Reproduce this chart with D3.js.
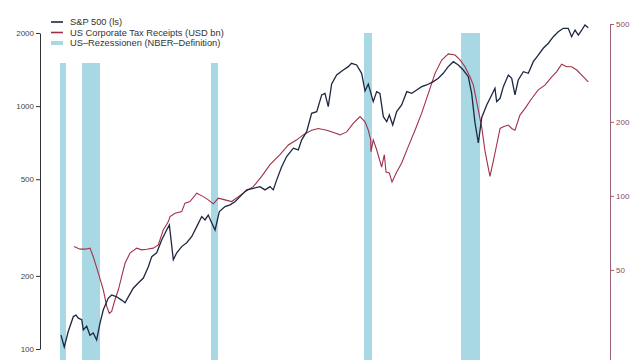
<!DOCTYPE html>
<html><head><meta charset="utf-8">
<script src="https://cdn.jsdelivr.net/npm/d3@7"></script>
<style>html,body{margin:0;padding:0;background:#fff;}svg{display:block;font-family:"Liberation Sans",Arial,sans-serif;}</style>
</head><body><svg id="c" width="640" height="360"></svg>
<script>
// S&P 500 (left scale), [decimal year, index level]
const spYears = [1980.00,1980.23,1980.51,1980.87,1981.06,1981.22,1981.46,1981.57,1981.81,1982.04,1982.27,1982.51,1982.75,1982.98,1983.33,1983.57,1983.92,1984.27,1984.51,1984.74,1985.09,1985.44,1985.80,1986.15,1986.39,1986.74,1987.09,1987.44,1987.63,1987.91,1988.15,1988.50,1988.85,1989.20,1989.56,1989.91,1990.14,1990.37,1990.61,1990.85,1991.15,1991.55,1991.90,1992.25,1992.73,1993.08,1993.54,1994.01,1994.37,1994.72,1994.95,1995.19,1995.54,1995.89,1996.36,1996.71,1996.95,1997.30,1997.65,1998.01,1998.36,1998.59,1998.82,1999.06,1999.41,1999.88,2000.23,2000.46,2000.82,2001.17,2001.41,2001.64,2001.99,2002.23,2002.46,2002.70,2002.94,2003.12,2003.36,2003.64,2003.99,2004.35,2004.70,2005.05,2005.40,2005.75,2006.22,2006.57,2006.92,2007.27,2007.63,2007.98,2008.33,2008.68,2008.92,2009.15,2009.39,2009.63,2009.98,2010.33,2010.56,2010.68,2010.92,2011.15,2011.50,2011.74,2011.97,2012.20,2012.56,2012.91,2013.26,2013.61,2013.96,2014.32,2014.67,2015.02,2015.37,2015.72,2015.96,2016.20,2016.43,2016.67,2016.90,2017.13];
const spValues = [114,102,118,136,138,134,132,120,124,114,116.5,109,128,145,162,167,164,159,155,164,178,187,196,218,240,249,281,309,324,233,249,264,274,290,319,351,340,356,331,309,368,386,392,404,431,452,459,466,452,466,452,497,563,620,671,660,726,785,934,949,1112,1129,995,1233,1343,1408,1454,1501,1477,1365,1154,1233,1043,1147,1129,905,863,920,836,949,1011,1147,1129,1165,1203,1222,1261,1302,1365,1454,1524,1477,1408,1322,1129,857,705,898,1011,1112,1184,1043,1077,1203,1343,1302,1112,1281,1386,1365,1524,1623,1730,1815,1931,2024,2091,2091,1931,2057,1962,2057,2158,2103];

// US Corporate Tax Receipts, USD bn (right scale)
const taxYears = [1980.92,1981.34,1981.69,1982.04,1982.27,1982.63,1982.98,1983.22,1983.40,1983.57,1983.80,1984.04,1984.27,1984.51,1984.86,1985.33,1985.68,1986.04,1986.50,1986.85,1987.20,1987.56,1987.68,1988.03,1988.50,1988.73,1989.08,1989.56,1990.02,1990.37,1990.73,1991.08,1991.55,1992.02,1992.49,1992.96,1993.54,1994.13,1994.72,1995.42,1996.01,1996.60,1997.06,1997.65,1998.12,1998.71,1999.30,1999.65,2000.12,2000.58,2001.06,2001.41,2001.64,2001.81,2001.83,2001.99,2002.23,2002.58,2002.77,2002.89,2003.12,2003.31,2003.64,2003.99,2004.46,2004.93,2005.40,2005.87,2006.34,2006.81,2007.28,2007.75,2008.10,2008.45,2008.80,2009.04,2009.27,2009.63,2009.86,2010.09,2010.21,2010.44,2010.68,2010.92,2011.15,2011.50,2011.74,2011.97,2012.32,2012.68,2013.15,2013.61,2014.08,2014.56,2014.91,2015.26,2015.61,2015.96,2016.32,2016.67,2017.13];
const taxValues = [62.2,60.7,60.7,61.3,56.6,48.5,41.5,35.5,33.3,33.9,37.8,41.5,46.9,53.2,58.5,61.3,60.3,60.7,61.3,63.2,72.7,78.6,82.4,85.0,86.3,93.4,94.8,102.5,99.3,96.3,92.8,97.8,96.3,94.8,99.3,104,109,120,134,147,161,169,177,185,188,185,180,177,182,197,210,200,185,169,151,169,154,131,147,125,124,114,125,136,159,185,217,261,315,357,378,374,357,335,305,282,242,190,152,130,120,138,161,188,191,194,188,185,213,227,249,270,282,305,320,343,335,335,325,310,291];

// US recessions (NBER), start/end in decimal years
const recStart = [1979.93,1981.48,1990.56,2001.34,2008.17];
const recEnd   = [1980.35,1982.75,1991.06,2001.90,2009.51];

const leftTicks = [100,200,500,1000,2000];
const rightTicks = [50,100,200,500];
const legendLabels = ["S&P 500 (ls)","US Corporate Tax Receipts (USD bn)","US\u2013Rezessionen (NBER\u2013Definition)"];

const colSP = "#1e2740", colTax = "#a0304a", colRec = "#a9d8e5", colRAxis = "#9a6075";

const svg = d3.select("#c");
const x = d3.scaleLinear().domain([1980, 2017]).range([61, 586.4]);
const yL = d3.scaleLog().domain([100, 2000]).range([349, 33]);
const yR = d3.scaleLog().domain([21.5, 500]).range([360, 24]);

// recession bands
const rec = recStart.map((s,i)=>({s, e: recEnd[i]}));
svg.append("g").selectAll("rect").data(rec).join("rect")
  .attr("x", d=>x(d.s)).attr("width", d=>x(d.e)-x(d.s))
  .attr("y", 33).attr("height", 360-33).attr("fill", colRec);

// lines
const sp = spYears.map((t,i)=>[t, spValues[i]]);
const tax = taxYears.map((t,i)=>[t, taxValues[i]]);
svg.append("path").datum(tax).attr("fill","none").attr("stroke",colTax).attr("stroke-width",1.1)
  .attr("d", d3.line().x(d=>x(d[0])).y(d=>yR(d[1])));
svg.append("path").datum(sp).attr("fill","none").attr("stroke",colSP).attr("stroke-width",1.3)
  .attr("d", d3.line().x(d=>x(d[0])).y(d=>yL(d[1])));

// legend background (covers band tops)
svg.append("rect").attr("x",44).attr("y",0).attr("width",182).attr("height",63).attr("fill","#fff");

// left axis
const gl = svg.append("g").attr("transform","translate(40,0)")
  .call(d3.axisLeft(yL).tickValues(leftTicks).tickFormat(d3.format("d")).tickSize(4).tickSizeOuter(0));
gl.select(".domain").attr("stroke","#333");
gl.selectAll(".tick line").attr("stroke","#333");
gl.selectAll(".tick text").attr("fill","#444").attr("font-size",8).attr("x",-6).attr("font-family","Liberation Sans, Arial, sans-serif");

// right axis
const gr = svg.append("g").attr("transform","translate(610,0)")
  .call(d3.axisRight(yR).tickValues(rightTicks).tickFormat(d3.format("d")).tickSize(4).tickSizeOuter(0));
gr.select(".domain").attr("stroke",colRAxis);
gr.selectAll(".tick line").attr("stroke",colRAxis);
gr.selectAll(".tick text").attr("fill","#8a4a5c").attr("font-size",8).attr("x",6).attr("font-family","Liberation Sans, Arial, sans-serif");

// legend
const lg = svg.append("g");
const lcols = [colSP, colTax, colRec];
const lw = [1.6, 1.6, 4];
legendLabels.forEach((t,i)=>{
  const yy = 22 + i*10.5;
  lg.append("line").attr("x1",51).attr("x2",63).attr("y1",yy).attr("y2",yy)
    .attr("stroke",lcols[i]).attr("stroke-width",lw[i]);
  lg.append("text").attr("x",70).attr("y",yy+3.3).attr("font-size",9.3).attr("fill","#333").text(t);
});
</script></body></html>
